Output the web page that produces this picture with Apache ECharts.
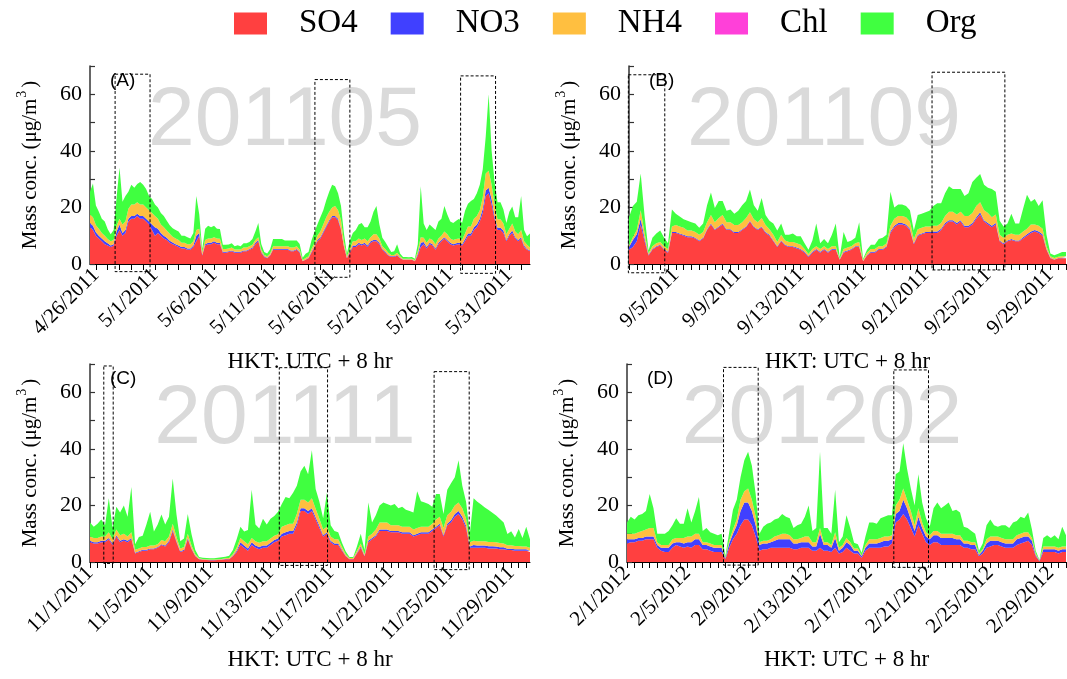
<!DOCTYPE html>
<html><head><meta charset="utf-8">
<script src="https://cdn.jsdelivr.net/npm/echarts@6/dist/echarts.min.js"></script>
<style>html,body{margin:0;padding:0;background:#fff}#c{width:1067px;height:679px}</style>
</head><body><div id="c"></div>
<script>
const seriesNames = ['SO4','NO3','NH4','Chl','Org'];
const seriesColors = ['#FF4040','#4040FF','#FFBF40','#FF40D9','#40FF40'];
const stepHours = 6;

// ---------- Panel A : 201105 (start 2011-04-25 12:00, every 6 h) ----------
const startA = '2011-04-25T12:00';
const so4A = [13,12,10,9,8,7,6.5,6,6.5,10, 12,10,11,15,16,16,17,16,16,15, 14,12,10,11,10,9,8.5,7.5,7,6.5, 6,5.5,5.5,5,5,6,8,10,3,6.5, 7,7,7.5,7,7,4,4,4.2,4.5,4, 4,4,4.5,4.5,5,5.5,7,8,4,2.5, 2,3,5,5,5,5,5,5,4.5,4.5, 5,4,1,1.5,2,4,6,8,9,11, 13,15,16.5,16.5,15.5,12,6,2,4,6, 6,7,6.5,7,6,7.5,8,8,7,5, 4,3,2.5,2.5,3,2,1.5,1.5,1.5,1.5, 1,3,6,7,5.5,7,6.5,5,7,8, 9,8,7,6.5,6.8,7,6.5,8,10,10, 12,13,15,18,24,25,21,16,12,12, 11,8,10,11,9,8,9,6,5,4.5, 4];
const no3A = [1.5,1.5,1.2,1,1,1,0.8,0.5,0.5,1.5, 2,1,1,1,1,1,0.8,1,1,1, 1,2,3,1.5,1,1,0.8,0.7,0.6,0.5, 0.5,0.5,0.5,0.5,0.5,0.5,2,1,0.3,0.5, 0.5,0.5,0.5,0.5,0.4,0.3,0.3,0.3,0.3,0.3, 0.3,0.3,0.3,0.3,0.3,0.3,0.5,0.5,0.3,0.2, 0.2,0.2,0.3,0.3,0.3,0.3,0.3,0.3,0.3,0.3, 0.3,0.3,0.1,0.1,0.2,0.3,0.3,0.5,0.5,0.5, 0.5,0.5,0.5,0.5,0.5,0.5,0.3,0.2,0.3,0.5, 0.5,0.5,0.5,0.5,0.5,0.5,0.5,0.5,0.5,0.3, 0.3,0.2,0.2,0.2,0.2,0.2,0.1,0.1,0.1,0.1, 0.1,0.5,1.5,0.8,0.5,0.5,0.5,0.5,0.5,0.5, 0.5,0.5,0.5,0.5,0.5,0.5,0.5,0.8,0.8,0.8, 1,1,1,1.5,2,2,2,1,0.8,0.8, 0.8,0.5,0.5,0.8,0.5,0.5,0.5,0.5,0.3,0.3, 0.3];
const nh4A = [3,3,2.5,2.5,2,2,1.5,1.5,1.5,2, 2,3,3,3.5,4,4,4,4,4,4, 4,4,4,3.5,3,3,2.5,2.5,2,2, 2,1.5,1.5,1.5,1.5,1.5,2,1.5,1,1.5, 1.5,1.5,1.5,1.5,1.5,1,1,1,1,0.8, 0.8,0.8,1,1,1,1,1,1,0.8,0.5, 0.5,0.5,1,1,1,1,1,1,1,1, 1,0.8,0.3,0.5,0.5,1,1,1.5,2,2.5, 3,3,3,3.5,3,3,1.5,0.5,1,1.5, 1.5,1.5,1.5,1.5,1.5,1.5,2,2,1.5,1, 1,0.8,0.5,0.5,0.8,0.5,0.3,0.3,0.3,0.3, 0.3,1,2,1.5,1.5,1.5,1.5,1.5,1.5,1.5, 2,2,1.5,1.5,1.5,1.5,1.5,2,2.5,2.5, 3,3,3,4,6,6,5,4,3,3, 2.5,2,2,2.5,2,2,2.5,1.5,1.5,1, 1];
const chlA = [];
const orgA = [8,12,7,6,5,5,3.5,2.5,3.5,10, 18,8,9,6,7,6,6.5,8,7,6.5, 5,5,4,4,4,4,3.5,3,3,3, 3,2.5,2.5,2.5,2,3,12,5,1,4, 4.5,4,4,3.5,3.5,1.5,1.5,1.4,1.5,1.2, 1.5,1.2,1.5,1.5,1.5,2,3,5,2,1, 1,1.5,2.5,2.5,2.5,2.5,2,2,2.5,2.5, 2,2,0.8,1.5,1.5,3,4,4,5,5, 6,7,8,7,6,5,3,1,3,3, 4,5,6,4,5,5.5,8,10,5,3, 2.5,2,1,1.3,3,1,0.6,0.6,0.5,0.6, 0.5,2.5,18,5,4.5,5,4.5,5,6,6, 9,7,6,6,6.5,7,6,8,8,9, 7,8,9,10,13,27,12,8,6,6, 5,4,6,6,5,6,12,4,3,5, 3];
const labelsA = ['2011-04-26','2011-05-01','2011-05-06','2011-05-11','2011-05-16','2011-05-21','2011-05-26','2011-05-31'];
const boxesA = [['2011-04-27T15:00','2011-04-30T14:00',-2.7,67.1],['2011-05-14T13:00','2011-05-17T12:00',-4.7,65.2],['2011-05-26T21:00','2011-05-29T20:00',-3.3,66.5]];

// ---------- Panel B : 201109 (start 2011-09-02 00:00, every 6 h) ----------
const startB = '2011-09-02T00:00';
const so4B = [5,6,8,14,8,3,5,6,6.5,5, 4,11,11,10.5,10,9.5,9.5,9,8,9, 12,14,12,13,14,12,12,11,11,12, 13,15,13,12,13,11,10,8,6,8, 6.5,6,6,5.5,5,4,2.5,4,5,4, 5,4,5,5,1.5,4,4.5,5,6,6, 1,3,4,4,5,5,6,11,13,14, 14,13.5,12,7,10,10.5,11,11,11,11, 12,14,15,15,14,15,13,13,14,16, 17.5,15,14,13,14,8,7,8,8.5,8, 8,9,10,11,11.5,11,10,5,2,1.5, 2,2,2];
const no3B = [1,2.5,2.5,2,1,0.3,0.3,0.3,0.3,0.3, 0.3,0.3,0.3,0.3,0.3,0.3,0.3,0.3,0.3,0.3, 0.3,0.3,0.3,0.3,0.3,0.3,0.3,0.3,0.3,0.3, 0.3,0.3,0.3,0.3,0.3,0.3,0.3,0.3,0.3,0.3, 0.3,0.3,0.3,0.3,0.3,0.3,0.2,0.3,0.3,0.3, 0.3,0.3,0.3,0.3,0.1,0.3,0.3,0.3,0.3,0.3, 0.1,0.2,0.3,0.3,0.3,0.3,0.3,0.5,0.5,0.5, 0.5,0.5,0.5,0.3,0.3,0.3,0.3,0.3,0.5,0.5, 0.5,0.5,0.5,0.5,0.5,0.5,0.5,0.5,0.5,0.5, 0.8,0.5,0.5,0.5,0.5,0.3,0.3,0.3,0.3,0.3, 0.3,0.5,0.5,0.5,0.5,0.5,0.5,0.3,0.2,0.1, 0.1,0.2,0.2];
const nh4B = [0.5,1,1.5,3,2,0.5,1,1,1,1, 1,2,2.5,2.5,2.5,2,2,2,2,2, 2.5,3,2.5,3,3,2.5,2.5,2.5,2.5,2.5, 3,3,2.5,2.5,3,2.5,2,2,1.5,2, 1.5,1.5,1.5,1.5,1.5,1,0.8,1,1,1, 1,1,1,1,0.3,1,1,1,1,1.5, 0.3,0.8,1,1,1,1,1,2,2.5,2.5, 2.5,2.5,2.5,1.5,2,2,2,2,2,2, 2,2.5,3,3,3,3,3.5,3.5,3.5,4, 3.5,3.5,3.5,3,3,2,2,2,2,2, 2,2,2,2.5,2,2,2,1,0.5,0.5, 0.5,0.5,0.5];
const chlB = [];
const orgB = [10,11,10,13,6,1,3,3.5,4,3, 2,6,4,3.5,3,3.5,3,3,2.5,3, 6,8,5,6,5,4,4.5,4,5,6, 6,8,5,4,7,3.5,3,4,4,4, 2,2.5,3,2.5,3,2,1.5,3,8,2, 2.5,2,4,8,0.5,6,2,2,2,7, 0.5,1,1.5,1.5,2.5,3,3,12,4,4, 4,4,4,3,5,5,5,5.5,7,8, 7,8,9,8,9,8,7,8,11,10, 10,9,9,10,8,5,4,4,7,4, 4,8,12,8,9,7,10,4,1,1, 1,1.5,1.5];
const labelsB = ['2011-09-05','2011-09-09','2011-09-13','2011-09-17','2011-09-21','2011-09-25','2011-09-29'];
const boxesB = [['2011-09-01T23:00','2011-09-04T07:00',-3.1,66.9],['2011-09-21T10:00','2011-09-26T02:00',-2.1,67.8]];

// ---------- Panel C : 201111 (start 2011-11-01 00:00, every 6 h) ----------
const startC = '2011-11-01T00:00';
const so4C = [7,6.5,6.5,7,7,8,6,9,7,7.5, 7,8,3,3.5,4,4,4.5,4.5,5,6, 5.5,7,11,7,3.5,4,8,4.5,2,1, 0.8,0.7,0.6,0.6,0.7,0.8,1,1,2,3.5, 6,5,4,6,5,4.5,5,5,6,7, 7.5,9,9.5,10,10,13,18,18,17,18, 15,12,9,10,7,6,6,4,2,1, 1,3,5,2,7,8,9,11,11,11, 10.5,10.5,10.5,10,10,10,9,9.5,10,10, 10,11,12,13,9,13,14,16,17,15, 12,5,5,5,5,5,4.8,4.8,4.8,4.5, 4.5,4.2,4.2,4,4,4,4,3.5];
const no3C = [0.5,0.5,0.5,0.5,0.5,0.5,0.5,0.5,0.5,0.5, 0.5,0.5,0.3,0.3,0.3,0.3,0.3,0.3,0.3,0.3, 0.3,0.5,0.5,0.3,0.3,0.3,0.5,0.3,0.2,0.1, 0.1,0.1,0.1,0.1,0.1,0.1,0.1,0.1,0.2,0.5, 1,0.8,0.8,1,0.8,0.8,0.8,0.8,0.8,0.8, 0.8,1,1,1,1,1,1,1,1,1, 0.8,0.8,0.5,0.5,0.5,0.5,0.5,0.3,0.2,0.1, 0.1,0.3,0.5,0.2,0.5,0.5,0.5,0.5,0.5,0.5, 0.5,0.5,0.5,0.5,0.5,0.5,0.5,0.5,0.5,0.5, 0.5,0.5,0.5,0.5,0.5,0.5,0.8,1,1,1, 0.8,0.5,1,0.8,0.8,0.8,0.8,0.8,0.7,0.7, 0.7,0.5,0.5,0.5,0.5,0.5,0.5,0.5];
const nh4C = [1.5,1.5,1.5,1.5,1.5,2,1.5,2,2,2, 1.5,2,1,1,1,1,1,1,1,1.5, 1.5,1.5,2,1.5,1,1,1.5,1,0.5,0.2, 0.2,0.2,0.2,0.2,0.2,0.2,0.2,0.3,0.5,1, 1.5,1.5,1.5,1.5,1.5,1.5,1.5,1.5,1.5,1.5, 1.5,2.5,2.5,2.5,2.5,3,3,3,3,3.5, 3,2.5,2,2,1.5,1.5,1.5,1,0.5,0.3, 0.3,0.8,1,0.5,1.5,1.5,2,2.5,2.5,2.5, 2,2,2,2,2,2,2,2,2,2, 2,2,2.5,2.5,2.5,3,3,3,3,3, 2.5,1.5,1.5,1.5,1.5,1.5,1.5,1.5,1.5,1.5, 1.3,1.2,1.2,1.2,1.2,1,1,1];
const chlC = [];
const orgC = [5,4,5,6,4,12,4,8,8,10, 7,16,2,4,4,8,12,5,7,9, 6,7,16,8,2.5,3,7,4,1.5,0.5, 0.4,0.4,0.4,0.4,0.5,0.6,0.6,0.8,1.5,3, 4,3.5,5,17,6,5,8,6,7,7, 8,8,10,9,11,10,10,12,10,17, 7,6,4,12,4,3,2.5,1.5,1,0.4, 0.4,1.5,3.5,1.5,12,4,5,6,7,6.5, 7,7.5,6,7,6,5.5,6,13,9,8.5, 8,6,9,8,5,9,10,10,15,8, 6,3,15,14,13,12,11.3,10.3,9.4,8.5, 7.5,4,5,3,6,3,7,3];
const labelsC = ['2011-11-01','2011-11-05','2011-11-09','2011-11-13','2011-11-17','2011-11-21','2011-11-25','2011-11-29'];
const boxesC = [['2011-11-01T22:00','2011-11-02T13:00',-0.5,69.3],['2011-11-13T14:00','2011-11-16T19:00',-1.2,68.7],['2011-11-23T21:00','2011-11-26T05:00',-2.7,67.3]];

// ---------- Panel D : 201202 (start 2012-02-01 00:00, every 6 h) ----------
const startD = '2012-02-01T00:00';
const so4D = [6.5,7,7,7.5,7.5,8,8,8,5,4, 3.5,3.5,5,6,5.5,5,5.5,5,6,6, 4.5,4.5,4,3.5,3.5,3.5,1,5,8,10, 13,15,15,13,9,4,4.5,4.5,5,5, 5,5,5,5,4.5,4.5,5,5,5,4, 4,5,4,4,3.5,5,3,3.5,5,4, 3,3,1.5,4,5,5,5,5,5.5,5.5, 6.5,14,15,17,15,12,9,13,10,7, 6,7,7,6,6,6,6,6,6,5, 5,4.5,4.5,2,3,5,5.5,6,6,5.5, 5,5,5,6,6.5,7,7.5,6,2,0.3, 3.5,3.5,3.5,3.5,3,3.5,3.5];
const no3D = [1.5,1,1,1,1,1,1,1,1,1, 1.5,1.5,1.5,1,1.5,1.5,1.5,2,2,2, 1.5,1.5,1.5,1.5,1.5,1.5,0.3,1.5,2,3, 5,6,6,5,4,2,2,2,2,2.5, 3,3,3,3,2,2,2,2,2,1.5, 1.5,5,2,2,1.5,3.5,1,1.5,2,2, 1,1,0.5,1,1.5,1.5,1.5,2,2,2, 1.5,3,3,5,4,3,2,3,2,2, 2,2.5,2.5,2.5,2.5,2.5,2.5,2,2,1.5, 1.5,1.5,1.5,0.5,1,1.5,2,1.5,1.5,1.5, 1.5,1.5,1.5,2,2,2,1.5,1.5,0.5,0.1, 1,1,1,1,1,1,1];
const nh4D = [2,2,2,2,2.5,2.5,3,3,1,1, 1,1,1.5,1.5,1.5,2,2,2,2,2, 1,1,1,1,1,1,0.3,1,1.5,2, 4,4,5,4,3,1,1,1,1,1.5, 1.5,2,2,1.5,1.5,1.5,1.5,2,2,1.5, 1.5,2,1,1,1,2,1,1,1.5,1, 0.8,0.8,0.3,1,1.5,1.5,1.5,1.5,1.5,1.5, 1.5,3,4,4,3,3,2,3,2,1.5, 1.5,1.5,1.5,1.5,1.5,1.5,1.5,1.5,1.5,1, 1,1,1,0.5,0.5,1.5,1.5,1.5,1.5,1.5, 1.5,1.5,1.5,1.5,1.5,1.5,1.5,1,0.5,0.1, 1,1,1,1,1,1,1];
const chlD = [];
const orgD = [4,6,5,6,6,6.5,12,7,3,4, 4,5,5,7,5,5,10,5,8,13, 4,5,4,4,3.5,4,0.5,3,7,7, 8,11,13,12,8,3,5,6,6,6, 6,7,6,6,4,5,5,7,11,4, 5,27,5,5,4,15,2,3,8,5, 2,1.5,1,3,6,6,5.5,7,7,7.5, 7,11,10,16,11,8,7,12,7,5, 3,8,10,9,10,11,8,9,8,5, 4.5,4,3,1,2,5,6,4,3.5,4.5, 5,4,6,5,6,5,7,3,1,0.2, 3,4,3,4,3,7,4];
const labelsD = ['2012-02-01','2012-02-05','2012-02-09','2012-02-13','2012-02-17','2012-02-21','2012-02-25','2012-02-29'];
const boxesD = [['2012-02-07T09:00','2012-02-09T16:00',-1.1,68.8],['2012-02-18T15:00','2012-02-20T22:00',-1.9,67.9]];

// ---------- helpers ----------
const HOUR = 3600e3;
function ts(s){const p=s.split('T');const d=p[0].split('-').map(Number);const t=(p[1]||'00:00').split(':').map(Number);return Date.UTC(d[0],d[1]-1,d[2],t[0],t[1]);}
function fmt(v){const d=new Date(v);return (d.getUTCMonth()+1)+'/'+d.getUTCDate()+'/'+d.getUTCFullYear();}
function tickList(first,last,hours){const out=[];for(let t=ts(first);t<=ts(last);t+=hours*HOUR)out.push(t);return out;}

const SERIF = 'Liberation Serif';
const panels = [
  {grid:{left:90,top:66,width:440,height:198}, start:startA, min:'2011-04-25T12:00', max:'2011-06-01T18:00', labels:labelsA, tickFrom:'2011-04-26T00:00', tickHours:24, vals:[so4A,no3A,nh4A,chlA,orgA], boxes:boxesA, mark:'201105', tag:'(A)'},
  {grid:{left:629,top:66,width:437,height:198}, start:startB, min:'2011-09-02T00:00', max:'2011-09-30T00:00', labels:labelsB, tickFrom:'2011-09-02T00:00', tickHours:12, vals:[so4B,no3B,nh4B,chlB,orgB], boxes:boxesB, mark:'201109', tag:'(B)'},
  {grid:{left:90,top:364,width:440,height:198}, start:startC, min:'2011-11-01T00:00', max:'2011-11-30T06:00', labels:labelsC, tickFrom:'2011-11-01T00:00', tickHours:12, vals:[so4C,no3C,nh4C,chlC,orgC], boxes:boxesC, mark:'201111', tag:'(C)'},
  {grid:{left:627,top:364,width:439,height:198}, start:startD, min:'2012-02-01T00:00', max:'2012-03-01T00:00', labels:labelsD, tickFrom:'2012-02-01T00:00', tickHours:12, vals:[so4D,no3D,nh4D,chlD,orgD], boxes:boxesD, mark:'201202', tag:'(D)'}
];

const grids=[], xAxes=[], yAxes=[], series=[], graphics=[];
panels.forEach((p,i)=>{
  grids.push(Object.assign({containLabel:false}, p.grid));
  xAxes.push({type:'time', gridIndex:i, position:'bottom', min:ts(p.min), max:ts(p.max), show:false, splitLine:{show:false}});
  xAxes.push({type:'value', gridIndex:i, position:'bottom', min:ts(p.min), max:ts(p.max),
    name:'HKT: UTC + 8 hr', nameLocation:'middle', nameGap:86,
    nameTextStyle:{fontFamily:SERIF, fontSize:23, color:'#000'},
    axisLine:{show:true, onZero:false, lineStyle:{color:'#000', width:1}},
    axisTick:{show:true, inside:false, length:6, lineStyle:{color:'#000', width:1}, customValues:tickList(p.tickFrom,p.max,p.tickHours)},
    axisLabel:{rotate:45, fontFamily:SERIF, fontSize:21, color:'#000', margin:8, customValues:p.labels.map(ts), formatter:v=>fmt(v)},
    splitLine:{show:false}});
  yAxes.push({type:'value', gridIndex:i, min:0, max:70, interval:10,
    name:'Mass conc. (μg/m{s|3})', nameLocation:'middle', nameGap:45, nameRotate:90,
    nameTextStyle:{fontFamily:SERIF, fontSize:21, color:'#000', lineHeight:30, rich:{s:{fontFamily:SERIF, fontSize:14, color:'#000', verticalAlign:'top', lineHeight:14, padding:[0,3,0,1]}}},
    axisLine:{show:true, lineStyle:{color:'#333', width:1.5}},
    axisTick:{show:true, inside:true, length:5, lineStyle:{color:'#333', width:1.2}},
    axisLabel:{fontFamily:SERIF, fontSize:22, color:'#000', margin:8, formatter:v=>(v%20===0 && v<70)?String(v):''},
    splitLine:{show:false}});
  const t0 = ts(p.start);
  const xi = 2*i;
  seriesNames.forEach((n,k)=>{
    const arr = p.vals[k];
    series.push({name:n, type:'line', xAxisIndex:xi, yAxisIndex:i,
      stack: n==='Chl' ? undefined : 'tot'+i,
      data: arr.map((v,j)=>[t0 + j*stepHours*HOUR, v]),
      symbol:'none', showSymbol:false, lineStyle:{width:0}, itemStyle:{color:seriesColors[k]},
      areaStyle:{color:seriesColors[k], opacity:1}, emphasis:{disabled:true}, silent:true, z:2});
  });
  series.push({type:'custom', xAxisIndex:xi, yAxisIndex:i, clip:false, silent:true, z:5,
    data: p.boxes.map(b=>[ts(b[0]), ts(b[1]), b[2], b[3]]),
    encode:{x:[0,1], y:[2,3]},
    renderItem:(params, api)=>{
      const a = api.coord([api.value(0), api.value(3)]);
      const b = api.coord([api.value(1), api.value(2)]);
      return {type:'rect', shape:{x:a[0], y:a[1], width:b[0]-a[0], height:b[1]-a[1]},
        style:{fill:'none', stroke:'#000', lineWidth:1, lineDash:[3,2]}};
    }});
  graphics.push({type:'text', x:p.grid.left+195, y:p.grid.top+56, z:0, silent:true,
    style:{text:p.mark, fill:'#dadada', fontFamily:'Liberation Sans', fontSize:84, align:'center', verticalAlign:'middle'}});
  graphics.push({type:'text', x:p.grid.left+20, y:p.grid.top+5, z:10, silent:true,
    style:{text:p.tag, fill:'#000', fontFamily:'Liberation Sans', fontSize:19, align:'left', verticalAlign:'top'}});
});

const chart = echarts.init(document.getElementById('c'), null, {renderer:'canvas'});
chart.setOption({
  animation:false,
  backgroundColor:'#fff',
  legend:{data:seriesNames, top:2, left:229, icon:'rect', itemWidth:33, itemHeight:22, itemGap:33,
    textStyle:{fontFamily:SERIF, fontSize:33, color:'#000', padding:[0,0,0,27]}},
  grid:grids, xAxis:xAxes, yAxis:yAxes, series:series, graphic:graphics
});
</script></body></html>
